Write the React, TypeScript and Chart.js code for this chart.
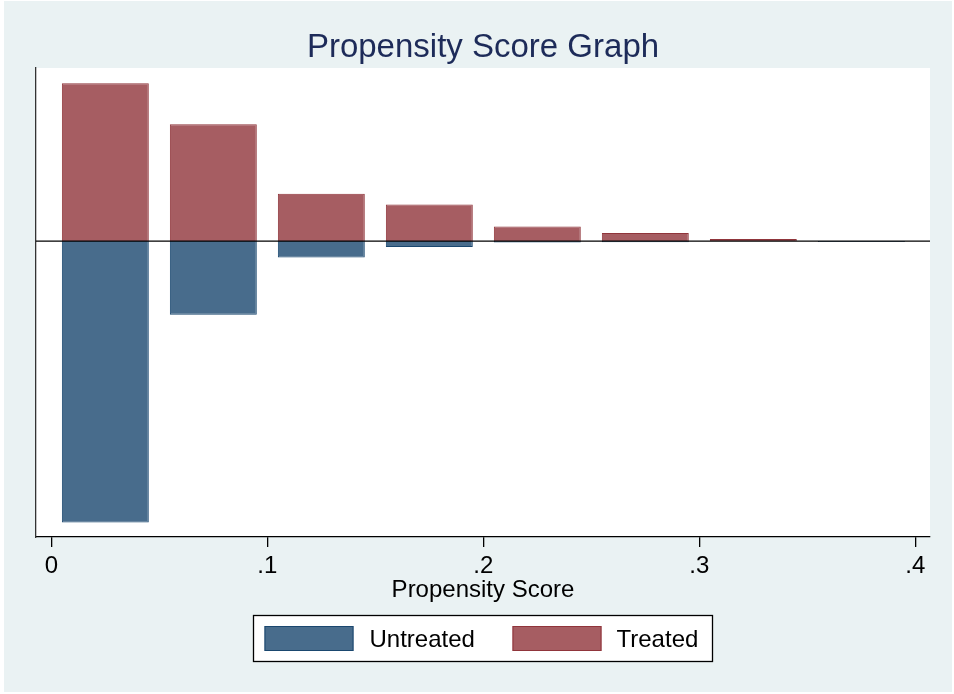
import React, { useEffect, useRef } from "react";
import { Chart, registerables } from "chart.js";

Chart.register(...registerables);

// Histogram bins of the propensity score (bin width 0.05)
const binCenters = [0.025, 0.075, 0.125, 0.175, 0.225, 0.275, 0.325, 0.375];
// Untreated shares are plotted downward, treated upward
const untreatedValues = [-28.17, -7.37, -1.64, -0.6, -0.14, -0.12, 0, -0.1];
const treatedValues = [15.8, 11.7, 4.73, 3.66, 1.46, 0.8, 0.2, 0];
const xTickValues = [0, 0.1, 0.2, 0.3, 0.4];
const xTickLabels = ["0", ".1", ".2", ".3", ".4"];
const seriesLabels = ["Untreated", "Treated"];

const FONT = "'Liberation Sans', Arial, Helvetica, sans-serif";
const BG = "#EAF2F3";
const NAVY_FILL = "#486C8C";
const NAVY_LINE = "#1A476F";
const MAROON_FILL = "#A65D62";
const MAROON_LINE = "#90353B";
const TITLE_COLOR = "#1D2B59";

const frame = {
  id: "frame",
  beforeDraw(chart: any) {
    const { ctx, chartArea, width, height } = chart;
    ctx.save();
    ctx.fillStyle = "#FFFFFF";
    ctx.fillRect(0, 0, width, height);
    ctx.fillStyle = BG;
    ctx.fillRect(4, 1, width - 6, height - 3);
    ctx.fillStyle = "#FFFFFF";
    ctx.fillRect(chartArea.left, chartArea.top, chartArea.right - chartArea.left, chartArea.bottom - chartArea.top);
    ctx.restore();
  },
  afterDatasetsDraw(chart: any) {
    const { ctx, chartArea, scales } = chart;
    const y0 = scales.y.getPixelForValue(0);
    ctx.save();
    ctx.strokeStyle = "#000000";
    ctx.lineWidth = 1.3;
    ctx.beginPath();
    ctx.moveTo(chartArea.left, y0);
    ctx.lineTo(chartArea.right, y0);
    ctx.stroke();
    ctx.restore();
  },
  afterDraw(chart: any) {
    const { ctx, chartArea } = chart;
    const cx = (chartArea.left + chartArea.right) / 2;
    ctx.save();
    // Title
    ctx.fillStyle = TITLE_COLOR;
    ctx.font = `33px ${FONT}`;
    ctx.textAlign = "center";
    ctx.textBaseline = "alphabetic";
    ctx.fillText("Propensity Score Graph", cx, 57);

    // Legend box
    const boxW = 459;
    const boxH = 46;
    const left = Math.round(cx - boxW / 2) - 0.5;
    const top = 615.5;
    ctx.fillStyle = "#FFFFFF";
    ctx.fillRect(left, top, boxW, boxH);
    ctx.strokeStyle = "#000000";
    ctx.lineWidth = 1.3;
    ctx.strokeRect(left, top, boxW, boxH);

    const swatchX = [11, 259];
    const textX = [116, 363];
    ctx.font = `24px ${FONT}`;
    ctx.textAlign = "left";
    chart.data.datasets.forEach((ds: any, i: number) => {
      ctx.fillStyle = ds.backgroundColor;
      ctx.fillRect(left + swatchX[i], 626, 89, 25);
      ctx.strokeStyle = ds.borderColor;
      ctx.lineWidth = 1;
      ctx.strokeRect(left + swatchX[i] + 0.5, 626.5, 88, 24);
      ctx.fillStyle = "#000000";
      ctx.fillText(ds.label, left + textX[i], 647);
    });
    ctx.restore();
  },
};

export default function App() {
  const canvasRef = useRef<HTMLCanvasElement | null>(null);

  useEffect(() => {
    const canvas = canvasRef.current;
    if (!canvas) return;
    const chart = new Chart(canvas, {
      type: "bar",
      data: {
        datasets: [
          {
            label: seriesLabels[0],
            data: binCenters.map((x, i) => ({ x, y: untreatedValues[i] })),
            backgroundColor: NAVY_FILL,
            borderColor: NAVY_LINE,
            borderWidth: 1,
            grouped: false,
            categoryPercentage: 1,
            barPercentage: 0.805,
          } as any,
          {
            label: seriesLabels[1],
            data: binCenters.map((x, i) => ({ x, y: treatedValues[i] })),
            backgroundColor: MAROON_FILL,
            borderColor: MAROON_LINE,
            borderWidth: 1,
            grouped: false,
            categoryPercentage: 1,
            barPercentage: 0.805,
          } as any,
        ],
      },
      options: {
        animation: false,
        responsive: false,
        devicePixelRatio: 1,
        layout: { padding: { left: 36, top: 68, right: 24, bottom: 87 } },
        plugins: {
          legend: { display: false },
          title: { display: false },
          tooltip: { enabled: false },
        },
        scales: {
          x: {
            type: "linear",
            offset: false,
            min: -0.0071,
            max: 0.4068,
            grid: {
              offset: false,
              drawOnChartArea: false,
              drawTicks: true,
              tickLength: 10,
              color: "#000000",
              lineWidth: 1.3,
            },
            border: { display: true, color: "#000000", width: 1.3 },
            ticks: {
              stepSize: 0.1,
              includeBounds: false,
              padding: 5,
              color: "#000000",
              font: { family: FONT, size: 24 },
              maxRotation: 0,
              callback: (v: any) => {
                const idx = xTickValues.findIndex((t) => Math.abs(t - Number(v)) < 1e-9);
                return idx >= 0 ? xTickLabels[idx] : "";
              },
            },
            title: {
              display: true,
              text: "Propensity Score",
              color: "#000000",
              font: { family: FONT, size: 24 },
              padding: { top: 0, bottom: 2 },
            },
            afterFit: (scale: any) => {
              scale.height = 70;
            },
          },
          y: {
            type: "linear",
            min: -29.62,
            max: 17.33,
            grid: { display: false },
            border: { display: true, color: "#333333", width: 1.3 },
            ticks: { display: false },
            afterFit: (scale: any) => {
              scale.width = 0;
            },
          },
        },
      } as any,
      plugins: [frame],
    });
    return () => chart.destroy();
  }, []);

  return (
    <div style={{ position: "fixed", left: 0, top: 0, width: 954, height: 694 }}>
      <canvas ref={canvasRef} width={954} height={694} style={{ display: "block" }} />
    </div>
  );
}
